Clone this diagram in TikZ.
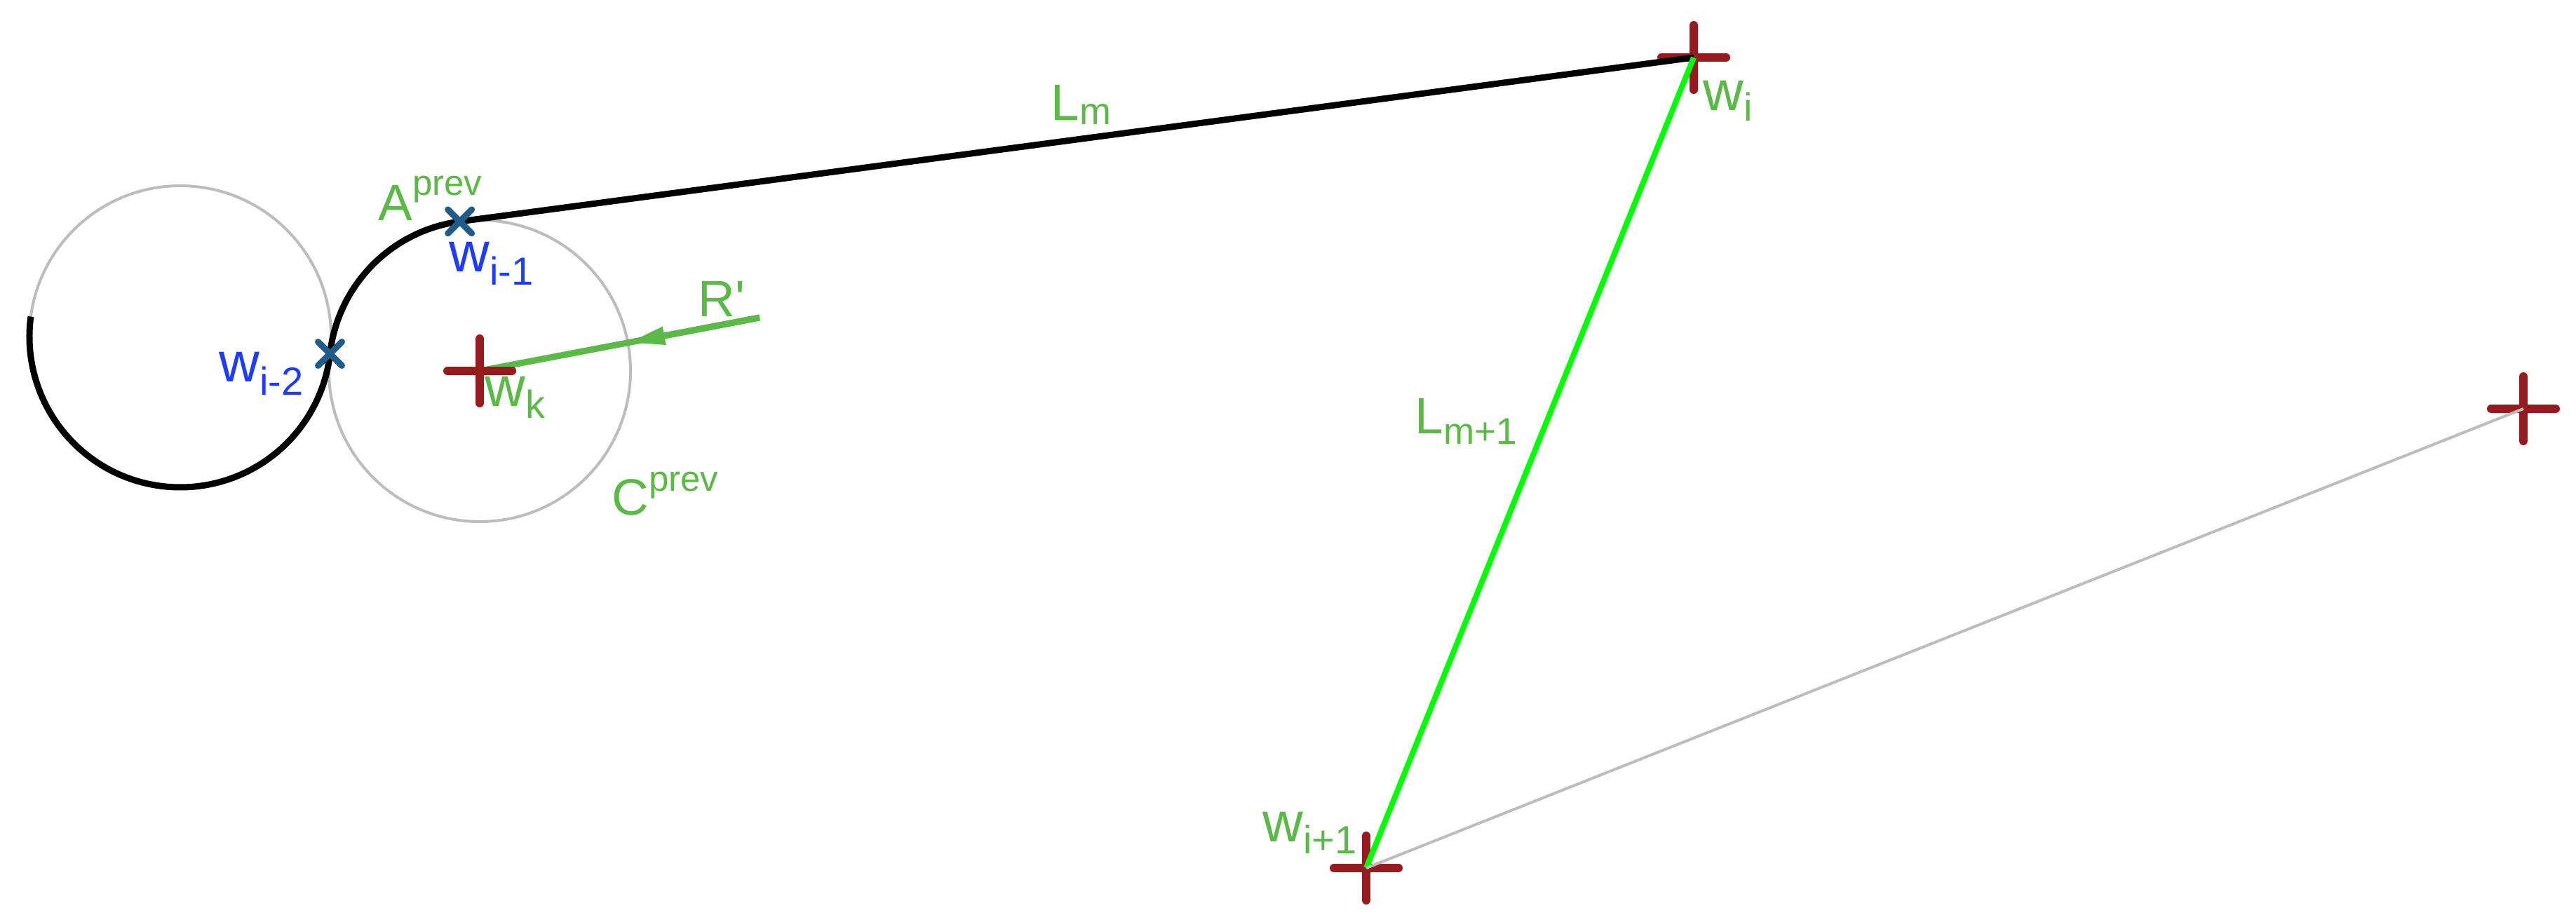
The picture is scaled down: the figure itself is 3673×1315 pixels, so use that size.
\documentclass[tikz,border=0pt]{standalone}
\usepackage{fontspec}
\newfontfamily\lblfont{Liberation Sans}
\usetikzlibrary{arrows.meta,calc}
\definecolor{lblgreen}{HTML}{5BB947}
\definecolor{lblblue}{HTML}{1E3CFF}
\definecolor{mkblue}{HTML}{1F5C8A}
\definecolor{wpred}{HTML}{951B1F}
\definecolor{ltgray}{HTML}{BDBDBD}
\definecolor{brgreen}{HTML}{00FF00}
\newcommand\mytxt[5]{{\fontsize{#1}{#1}\selectfont #2\raisebox{#3}{\fontsize{#4}{#4}\selectfont #5}}}
\tikzset{
  lbl/.style={inner sep=0pt, anchor=base west, font=\lblfont},
  greylbl/.style={lbl, text=lblgreen},
  bluelbl/.style={lbl, text=lblblue},
  thincircle/.style={draw=ltgray, line width=2pt},
  pathline/.style={draw=black, line width=4.5pt},
  legline/.style={draw=brgreen, line width=4pt},
  greyline/.style={draw=ltgray, line width=2pt},
  rline/.style={draw=lblgreen, line width=4.5pt},
  wpcross/.style={draw=wpred, line width=6pt, line cap=round},
  xmark/.style={draw=mkblue, line width=4.5pt, line cap=round},
}
\begin{document}
\begin{tikzpicture}[x=0.5pt, y=-0.5pt]
\useasboundingbox (0,0) rectangle (3673,1315);
% key points
\coordinate (wi) at (2415,82);
\coordinate (wip) at (1948,1238);
\coordinate (wr) at (3598,583);
\coordinate (wk) at (684,529);
\coordinate (c1) at (257,480);
\coordinate (tp) at ($(c1)!0.5!(wk)$);
\coordinate (wim) at ($(wk)+(262.43:215)$);
\coordinate (rs) at (1083,453);
\coordinate (rtip) at ($(wk)!0.5293!(rs)$);
\coordinate (arcstart) at ($(c1)+(187.6:215)$);
% circles
\draw[thincircle] (c1) circle[radius=215];
\draw[thincircle] (wk) circle[radius=215];
% R' arrow
\draw[rline] (rs) -- (wk);
\draw[rline, -{Triangle[length=26.5pt, width=12pt]}] (rs) -- (rtip);
% crosses
\foreach \p in {wi,wip,wr,wk}{
  \draw[wpcross] ([xshift=-23pt]\p) -- ([xshift=23pt]\p);
  \draw[wpcross] ([yshift=-23pt]\p) -- ([yshift=23pt]\p);
}
% path
\draw[pathline] (arcstart) arc[start angle=187.6, end angle=6.55, radius=215];
\draw[pathline] (tp) arc[start angle=186.55, end angle=262.43, radius=215];
\draw[pathline] (wim) -- (wi);
\draw[legline] (wi) -- (wip);
\draw[greyline] (wip) -- (wr);
% markers
\foreach \p in {wim,tp}{
  \draw[xmark] ([shift={(-8.5pt,-8.5pt)}]\p) -- ([shift={(8.5pt,8.5pt)}]\p);
  \draw[xmark] ([shift={(-8.5pt,8.5pt)}]\p) -- ([shift={(8.5pt,-8.5pt)}]\p);
}
% labels
\node[greylbl] (lm) at (1498,172) {\mytxt{36.5}{L}{-3pt}{27}{m}};
\node[greylbl] (lm1) at (2017,618) {\mytxt{36.5}{L}{-7.5pt}{26.5}{m+1}};
\node[greylbl] (lwi) at (2428,158) {\mytxt{40}{w}{-7.5pt}{28}{i}};
\node[greylbl] (lwip) at (1800,1200) {\mytxt{40}{w}{-8.5pt}{28}{i+1}};
\node[greylbl] (lwk) at (691,580) {\mytxt{40}{w}{-8.5pt}{28}{k}};
\node[bluelbl] (lwim) at (640,388) {\mytxt{40}{w}{-9.5pt}{28}{i-1}};
\node[bluelbl] (lwimm) at (312,545) {\mytxt{40}{w}{-9.5pt}{28}{i-2}};
\node[greylbl] (la) at (539,315) {\mytxt{36.5}{A}{18pt}{25.5}{prev}};
\node[greylbl] (lc) at (872,734) {\mytxt{36.5}{C}{17pt}{25.5}{prev}};
\node[greylbl] (lr) at (995,452) {{\fontsize{36.5}{40}\selectfont R'}};
\end{tikzpicture}
\end{document}
